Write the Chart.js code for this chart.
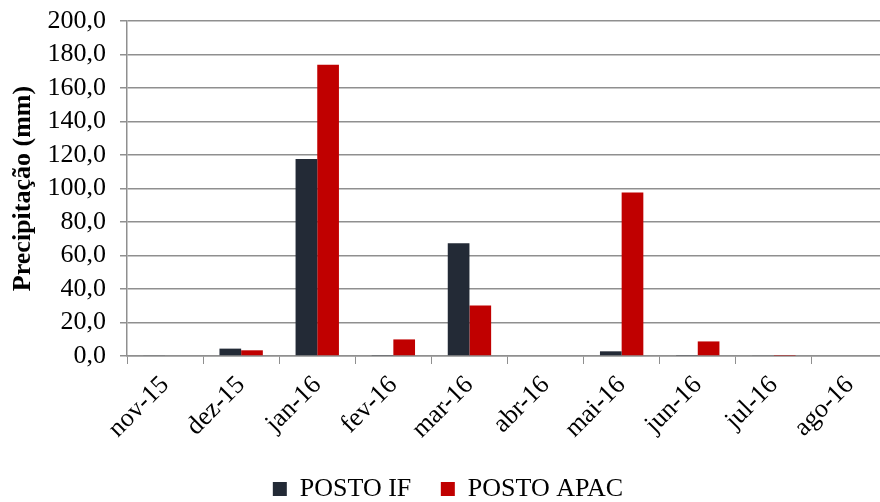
<!DOCTYPE html>
<html>
<head>
<meta charset="utf-8">
<script src="https://cdn.jsdelivr.net/npm/chart.js@4"></script>
<style>
  html, body { margin: 0; padding: 0; background: #fff; overflow: hidden; }
  #wrap { width: 880px; height: 502px; overflow: hidden; }
</style>
</head>
<body>
<div id="wrap"><canvas id="chuvaChart" width="890" height="502"></canvas></div>
<script>
// dados
const meses = ['nov-15', 'dez-15', 'jan-16', 'fev-16', 'mar-16', 'abr-16', 'mai-16', 'jun-16', 'jul-16', 'ago-16'];
const postoIF = [0.4, 4.4, 117.6, 0.6, 67.3, 0, 2.8, 0.3, 0.5, 0];
const postoAPAC = [0, 3.4, 173.9, 9.9, 30.2, 0, 97.6, 8.7, 0.2, 0];
const yMin = 0, yMax = 200, yStep = 20;

const fonte = 'Liberation Serif, Times New Roman, serif';
const cinza = '#8f8f8f';

const ctx = document.getElementById('chuvaChart').getContext('2d');
new Chart(ctx, {
    type: 'bar',
    data: {
        labels: meses,
        datasets: [
            { label: 'POSTO IF   ', data: postoIF, backgroundColor: '#232a36', borderWidth: 0 },
            { label: 'POSTO APAC', data: postoAPAC, backgroundColor: '#c00000', borderWidth: 0 }
        ]
    },
    options: {
        responsive: false,
        animation: false,
        layout: { padding: { left: 8, right: 2, top: 0, bottom: -10 } },
        datasets: { bar: { categoryPercentage: 0.57, barPercentage: 1 } },
        scales: {
            x: {
                grid: { drawOnChartArea: false, drawTicks: true, tickLength: 8, color: cinza, offset: true },
                border: { display: true, color: cinza, width: 1.5 },
                ticks: { minRotation: 45, maxRotation: 45, autoSkip: false, color: '#000', padding: 6, font: { family: fonte, size: 26 } },
                afterFit: function (scale) { scale.height = 110; }
            },
            y: {
                min: yMin,
                max: yMax,
                grid: { color: cinza, lineWidth: 1.5, tickLength: 7 },
                border: { display: true, color: cinza, width: 1.5 },
                ticks: {
                    stepSize: yStep,
                    autoSkip: false,
                    color: '#000',
                    padding: 14,
                    font: { family: fonte, size: 26 },
                    callback: v => v.toFixed(1).replace('.', ',')
                },
                title: {
                    display: true,
                    text: 'Precipitação (mm)',
                    color: '#000',
                    padding: 0,
                    font: { family: fonte, size: 26, weight: 'bold' }
                },
                afterFit: function (scale) {
                    scale.width = 119;
                    scale.paddingTop = 21;
                    scale.paddingBottom = 0;
                }
            }
        },
        plugins: {
            legend: {
                position: 'bottom',
                labels: {
                    boxWidth: 14,
                    boxHeight: 14,
                    padding: 10,
                    color: '#000',
                    font: { family: fonte, size: 26 }
                }
            },
            tooltip: { enabled: false }
        }
    }
});
</script>
</body>
</html>
